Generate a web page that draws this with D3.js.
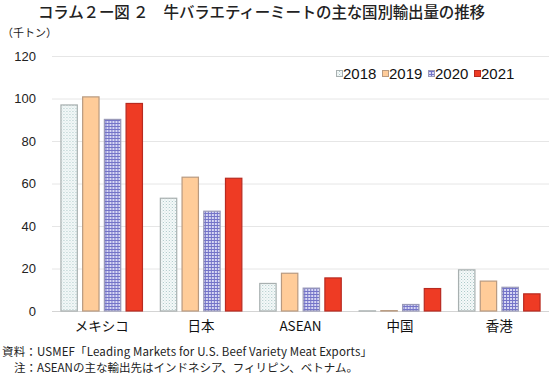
<!DOCTYPE html>
<html>
<head>
<meta charset="utf-8">
<script src="https://cdn.jsdelivr.net/npm/d3@7"></script>
<style>
  body { margin: 0; background: #fff; }
  svg { display: block; font-family: "Noto Sans CJK JP", "Liberation Sans", sans-serif; }
</style>
</head>
<body>
<div class="chart"></div>
<script>
const categories = ["メキシコ", "日本", "ASEAN", "中国", "香港"];
const years = ["2018", "2019", "2020", "2021"];
const v2018 = [97.2, 53.3, 13.2, 0.3, 19.6];
const v2019 = [101.0, 63.2, 18.0, 0.4, 14.3];
const v2020 = [90.4, 47.2, 11.0, 3.3, 11.4];
const v2021 = [97.9, 62.7, 15.8, 10.8, 8.3];
const yTicks = [0, 20, 40, 60, 80, 100, 120];

const series = [v2018, v2019, v2020, v2021];

const W = 558, H = 376;
const plot = { left: 52, right: 549, top: 56, bottom: 311 };

const svg = d3.select('.chart')
  .append('svg')
  .attr('width', W)
  .attr('height', H);

// fill patterns
const defs = svg.append('defs');
const dots = defs.append('pattern')
  .attr('id', 'p2018')
  .attr('width', 3).attr('height', 3)
  .attr('patternUnits', 'userSpaceOnUse');
dots.append('rect').attr('width', 3).attr('height', 3).attr('fill', '#f6fafa');
dots.append('rect').attr('x', 0).attr('y', 0).attr('width', 1).attr('height', 1).attr('fill', '#a9c6c6');
dots.append('rect').attr('x', 1.5).attr('y', 1.5).attr('width', 1).attr('height', 1).attr('fill', '#c3d8d8');

const grid = defs.append('pattern')
  .attr('id', 'p2020')
  .attr('width', 3).attr('height', 3)
  .attr('patternUnits', 'userSpaceOnUse');
grid.append('rect').attr('width', 3).attr('height', 3).attr('fill', '#d8d8f4');
grid.append('rect').attr('width', 3).attr('height', 1).attr('fill', '#7474c8');
grid.append('rect').attr('width', 1).attr('height', 3).attr('fill', '#7474c8');

const fills = { "2018": "url(#p2018)", "2019": "#ffcc99", "2020": "url(#p2020)", "2021": "#ee3b24" };
const strokes = { "2018": "#a8b0b0", "2019": "#b89a80", "2020": "#9a9ab8", "2021": "#b82a20" };

const yScale = d3.scaleLinear()
  .domain([0, 120])
  .range([plot.bottom, plot.top]);

const xScale = d3.scaleBand()
  .domain(categories)
  .range([plot.left, plot.right])
  .paddingInner(0.17)
  .paddingOuter(0.085);

const xInner = d3.scaleBand()
  .domain(years)
  .range([0, xScale.bandwidth()])
  .paddingInner(0.2);

// gridlines
svg.append('g')
  .selectAll('line')
  .data(yTicks)
  .enter()
  .append('line')
  .attr('x1', plot.left)
  .attr('x2', plot.right)
  .attr('y1', d => yScale(d) + 0.5)
  .attr('y2', d => yScale(d) + 0.5)
  .attr('stroke', d => d === 0 ? '#d4d4d4' : '#e6e6e6')
  .attr('stroke-width', 1);

// y axis labels
const yAxis = d3.axisLeft(yScale)
  .tickValues(yTicks)
  .tickSize(0)
  .tickPadding(0);

svg.append('g')
  .attr('transform', `translate(36, 0)`)
  .call(yAxis)
  .call(g => g.select('.domain').remove())
  .selectAll('text')
  .attr('font-family', '"Liberation Sans", Arial, sans-serif')
  .attr('font-size', 13)
  .attr('fill', '#222');

// bars
const rows = categories.map((c, i) => ({ cat: c, vals: years.map((y, j) => ({ year: y, value: series[j][i] })) }));

svg.append('g')
  .selectAll('g')
  .data(rows)
  .enter()
  .append('g')
  .attr('transform', d => `translate(${xScale(d.cat)}, 0)`)
  .selectAll('rect')
  .data(d => d.vals)
  .enter()
  .append('rect')
  .attr('x', d => xInner(d.year) + 0.5)
  .attr('y', d => yScale(d.value) + 0.5)
  .attr('width', xInner.bandwidth() - 1)
  .attr('height', d => Math.max(0, plot.bottom - yScale(d.value) - 0.5))
  .attr('fill', d => fills[d.year])
  .attr('stroke', d => strokes[d.year])
  .attr('stroke-width', 1.2);

// x axis labels
const xAxis = d3.axisBottom(xScale).tickSize(0).tickPadding(0);
svg.append('g')
  .attr('transform', `translate(0, ${plot.bottom + 10})`)
  .call(xAxis)
  .call(g => g.select('.domain').remove())
  .selectAll('text')
  .attr('font-family', '"Noto Sans CJK JP", sans-serif')
  .attr('font-size', 13.5)
  .attr('fill', '#111');

// legend
const legendX = [336, 382, 428, 474];
const legend = svg.append('g')
  .selectAll('g')
  .data(years)
  .enter()
  .append('g')
  .attr('transform', (d, i) => `translate(${legendX[i]}, 74)`);
legend.append('rect')
  .attr('x', 0.5).attr('y', -3.5)
  .attr('width', 6).attr('height', 6)
  .attr('fill', d => fills[d])
  .attr('stroke', d => strokes[d]);
legend.append('text')
  .attr('x', 7)
  .attr('y', 0)
  .attr('dy', '0.36em')
  .attr('font-family', '"Liberation Sans", Arial, sans-serif')
  .attr('font-size', 15)
  .attr('fill', '#111')
  .text(d => d);

// title and notes
svg.append('text')
  .attr('x', 38).attr('y', 18)
  .attr('font-size', 15.5)
  .attr('font-weight', 500)
  .attr('fill', '#222')
  .attr('textLength', 447)
  .text('コラム２ー図 ２　牛バラエティーミートの主な国別輸出量の推移');

svg.append('text')
  .attr('x', 2).attr('y', 37)
  .attr('font-size', 11)
  .attr('fill', '#222')
  .text('（千トン）');

svg.append('text')
  .attr('x', 2).attr('y', 356)
  .attr('font-size', 11.5)
  .attr('fill', '#222')
  .attr('textLength', 370)
  .text('資料：USMEF「Leading Markets for U.S. Beef Variety Meat Exports」');

svg.append('text')
  .attr('x', 14).attr('y', 372)
  .attr('font-size', 11.5)
  .attr('fill', '#222')
  .text('注：ASEANの主な輸出先はインドネシア、フィリピン、ベトナム。');
</script>
</body>
</html>
